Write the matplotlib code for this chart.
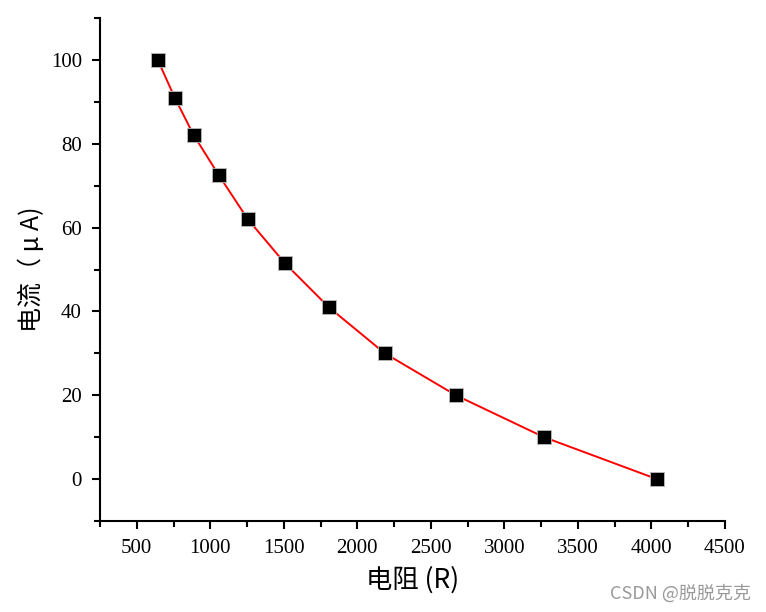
import numpy as np
import matplotlib
matplotlib.use('Agg')
import matplotlib.pyplot as plt
from matplotlib.ticker import MultipleLocator

plt.rcParams['font.family'] = ['Liberation Serif', 'Noto Sans CJK SC']

# 电阻 (R) 与 电流 (μA)
resistance = [643, 758, 888, 1058, 1255, 1507, 1806, 2187, 2670, 3269, 4037]
current = [100, 91, 82, 72.5, 62, 51.5, 41, 30, 20, 10, 0]
x_ticks = [500, 1000, 1500, 2000, 2500, 3000, 3500, 4000, 4500]
y_ticks = [0, 20, 40, 60, 80, 100]

fig = plt.figure(figsize=(7.66, 6.12), dpi=100)
ax = fig.add_axes([100/766, 1-521/612, 625/766, 503/612])

ax.plot(resistance, current, color='red', lw=1.4, zorder=1)
ax.plot(resistance, current, 's', ms=10, color='black', mec='#bbbbbb', mew=0.6, zorder=2)

ax.set_xlim(250, 4500)
ax.set_ylim(-10, 110)
ax.set_xticks(x_ticks)
ax.set_yticks(y_ticks)
ax.xaxis.set_minor_locator(MultipleLocator(250))
ax.yaxis.set_minor_locator(MultipleLocator(10))

for s in ['top', 'right']:
    ax.spines[s].set_visible(False)
for s in ['left', 'bottom']:
    ax.spines[s].set_linewidth(1.5)

ax.tick_params(which='major', length=6, width=1.5, labelsize=15, pad=7)
ax.tick_params(which='minor', length=4, width=1.5)

ax.set_xlabel('电阻 (R)', fontsize=19, labelpad=6,
              family=['Noto Sans CJK SC', 'DejaVu Sans'])
ax.set_ylabel('电流（ μ A)', fontsize=18, labelpad=4,
              family=['Noto Sans CJK SC', 'DejaVu Sans'])

fig.text(0.98, 0.015, 'CSDN @脱脱克克', ha='right', va='bottom', fontsize=13,
         color='#999999', family=['Noto Sans CJK SC', 'DejaVu Sans'])

fig.savefig('out.png', dpi=100)
